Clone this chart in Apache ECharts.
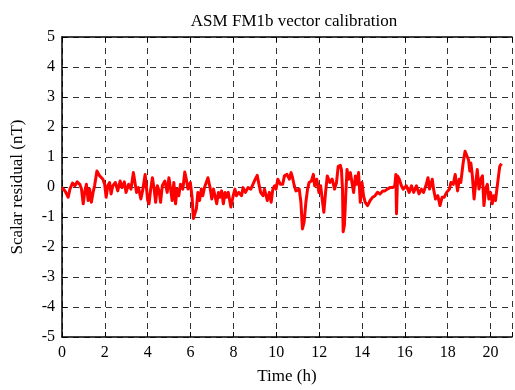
<!DOCTYPE html>
<html>
<head>
<meta charset="utf-8">
<script src="https://cdn.jsdelivr.net/npm/echarts@6/dist/echarts.min.js"></script>
<style>html,body{margin:0;padding:0;background:#fff;}#c{width:515px;height:390px;}</style>
</head>
<body>
<div id="c"></div>
<script>
var titleText = 'ASM FM1b vector calibration';
var xName = 'Time (h)';
var yName = 'Scalar residual (nT)';
var xTicks = [0, 2, 4, 6, 8, 10, 12, 14, 16, 18, 20];
var yTicks = [-5, -4, -3, -2, -1, 0, 1, 2, 3, 4, 5];
var times = [0.00,0.14,0.29,0.37,0.49,0.60,0.71,0.83,0.91,0.99,1.06,1.14,1.22,1.29,1.37,1.45,1.52,1.63,1.76,1.91,1.99,2.06,2.14,2.22,2.29,2.37,2.49,2.60,2.71,2.80,2.91,2.99,3.11,3.22,3.33,3.42,3.48,3.57,3.68,3.76,3.88,3.94,4.00,4.06,4.14,4.22,4.30,4.37,4.45,4.53,4.60,4.68,4.80,4.91,4.99,5.07,5.14,5.22,5.30,5.37,5.45,5.53,5.64,5.73,5.80,5.88,5.99,6.07,6.13,6.19,6.27,6.34,6.42,6.50,6.57,6.65,6.73,6.81,6.91,6.99,7.07,7.14,7.22,7.30,7.37,7.45,7.53,7.61,7.68,7.76,7.88,7.99,8.07,8.14,8.25,8.38,8.45,8.56,8.68,8.81,8.91,9.02,9.11,9.19,9.27,9.38,9.45,9.58,9.68,9.76,9.84,9.92,9.99,10.07,10.19,10.30,10.38,10.50,10.61,10.69,10.76,10.84,10.92,10.99,11.07,11.15,11.22,11.30,11.38,11.46,11.53,11.64,11.73,11.79,11.89,11.99,12.07,12.15,12.22,12.30,12.38,12.50,12.61,12.72,12.81,12.89,12.99,13.04,13.09,13.12,13.18,13.24,13.30,13.38,13.46,13.53,13.61,13.69,13.76,13.84,13.92,14.00,14.07,14.15,14.26,14.38,14.50,14.61,14.72,14.84,14.97,15.07,15.18,15.30,15.43,15.53,15.58,15.61,15.66,15.74,15.84,15.92,16.00,16.07,16.20,16.31,16.41,16.54,16.66,16.77,16.87,17.00,17.08,17.15,17.28,17.34,17.43,17.54,17.64,17.74,17.84,17.95,18.08,18.15,18.26,18.35,18.46,18.54,18.61,18.72,18.81,18.89,18.97,19.03,19.08,19.15,19.23,19.31,19.38,19.46,19.54,19.62,19.69,19.77,19.85,19.92,20.00,20.08,20.15,20.23,20.32,20.39,20.43,20.51];
var residuals = [-0.02,-0.13,-0.34,-0.07,0.13,0.04,0.17,0.09,-0.07,-0.56,-0.18,0.09,-0.45,-0.07,-0.51,-0.18,0.04,0.53,0.37,0.26,0.09,-0.34,0.04,0.15,-0.23,0.04,0.15,-0.13,0.20,-0.02,0.17,-0.18,0.09,-0.07,0.48,0.48,-0.18,-0.02,-0.40,-0.13,0.42,0.37,-0.45,-0.56,-0.07,0.31,-0.07,-0.51,0.04,-0.13,-0.51,0.04,0.20,-0.18,0.31,-0.07,-0.45,0.15,-0.56,-0.07,-0.29,0.09,-0.07,0.50,0.26,-0.07,0.15,-0.34,-1.05,-1.11,-0.73,-0.18,-0.45,-0.07,-0.29,-0.02,-0.07,0.31,-0.02,-0.40,-0.07,-0.13,-0.56,-0.18,-0.34,-0.13,-0.56,-0.18,-0.34,-0.18,-0.67,-0.29,-0.07,-0.29,-0.18,-0.29,-0.02,-0.18,-0.02,-0.07,0.09,0.26,0.39,0.09,-0.18,-0.29,-0.07,-0.45,-0.18,-0.51,-0.07,0.04,-0.07,0.26,0.09,0.09,0.37,0.42,0.26,0.48,0.31,0.04,-0.13,-0.13,-0.07,-0.51,-1.40,-1.16,-0.51,-0.07,0.15,0.20,0.42,0.04,0.26,-0.18,0.04,-0.45,-0.84,-0.18,0.37,0.15,0.26,-0.07,0.15,0.69,0.72,0.58,-0.07,-1.49,-1.27,-0.29,0.58,0.26,0.48,0.15,-0.18,0.37,0.09,0.48,-0.51,0.15,-0.29,-0.51,-0.62,-0.45,-0.34,-0.29,-0.18,-0.23,-0.13,-0.13,-0.07,-0.02,-0.02,0.04,0.42,-0.89,0.37,0.26,0.04,-0.07,-0.13,0.04,-0.18,0.04,-0.18,0.04,-0.23,-0.07,-0.18,0.09,0.31,-0.07,0.26,-0.07,-0.40,-0.29,-0.62,-0.34,-0.34,-0.18,-0.07,0.15,0.09,0.42,-0.13,0.26,0.15,0.80,1.19,1.24,0.91,0.53,0.80,0.37,-0.40,0.15,0.58,-0.07,0.26,0.37,-0.62,-0.07,0.09,-0.40,-0.18,-0.56,-0.29,-0.45,-0.40,0.48,0.69,0.78];

var seriesData = times.map(function (t, i) { return [t, residuals[i]]; });
var font = 'Liberation Serif';
var chart = echarts.init(document.getElementById('c'), null, {renderer: 'canvas'});
var dashStyle = {color: '#333', width: 1, type: [6, 5]};
chart.setOption({
  animation: false,
  backgroundColor: '#fff',
  title: {
    text: titleText, left: 289, top: 8, textAlign: 'center',
    textStyle: {fontFamily: font, fontSize: 17, fontWeight: 'normal', color: '#000'}
  },
  grid: {left: 62, top: 37, right: -2, bottom: 48, show: false},
  xAxis: [{
    type: 'value', min: 0, max: 21, interval: 2, position: 'bottom',
    name: xName, nameLocation: 'middle', nameGap: 31,
    nameTextStyle: {fontFamily: font, fontSize: 17, color: '#000'},
    axisLine: {show: true, onZero: false, lineStyle: {color: '#000', width: 1.5}},
    axisTick: {show: true, inside: true, length: 5, lineStyle: {color: '#000'}},
    axisLabel: {fontFamily: font, fontSize: 16, color: '#000', margin: 8,
      formatter: function (v) { return xTicks.indexOf(v) >= 0 ? String(v) : ''; }},
    splitLine: {show: true, lineStyle: dashStyle}
  }, {
    type: 'value', min: 0, max: 21, interval: 2, position: 'top',
    axisLine: {show: true, onZero: false, lineStyle: {color: '#000', width: 1.5}},
    axisTick: {show: true, inside: true, length: 5, lineStyle: {color: '#000'}},
    axisLabel: {show: false}, splitLine: {show: false}
  }],
  yAxis: [{
    type: 'value', min: -5, max: 5, interval: 1,
    name: yName, nameLocation: 'middle', nameGap: 36, nameRotate: 90,
    nameTextStyle: {fontFamily: font, fontSize: 17, color: '#000'},
    axisLine: {show: true, onZero: false, lineStyle: {color: '#000', width: 1.5}},
    axisTick: {show: true, inside: true, length: 5, lineStyle: {color: '#000'}},
    axisLabel: {fontFamily: font, fontSize: 16, color: '#000', margin: 7,
      formatter: function (v) { return yTicks.indexOf(v) >= 0 ? String(v) : ''; }},
    splitLine: {show: true, lineStyle: dashStyle}
  }],
  series: [{
    type: 'line', data: seriesData, xAxisIndex: 0, yAxisIndex: 0,
    showSymbol: false, symbol: 'none',
    lineStyle: {color: '#ff0000', width: 3, join: 'round'}
  }]
});
</script>
</body>
</html>
